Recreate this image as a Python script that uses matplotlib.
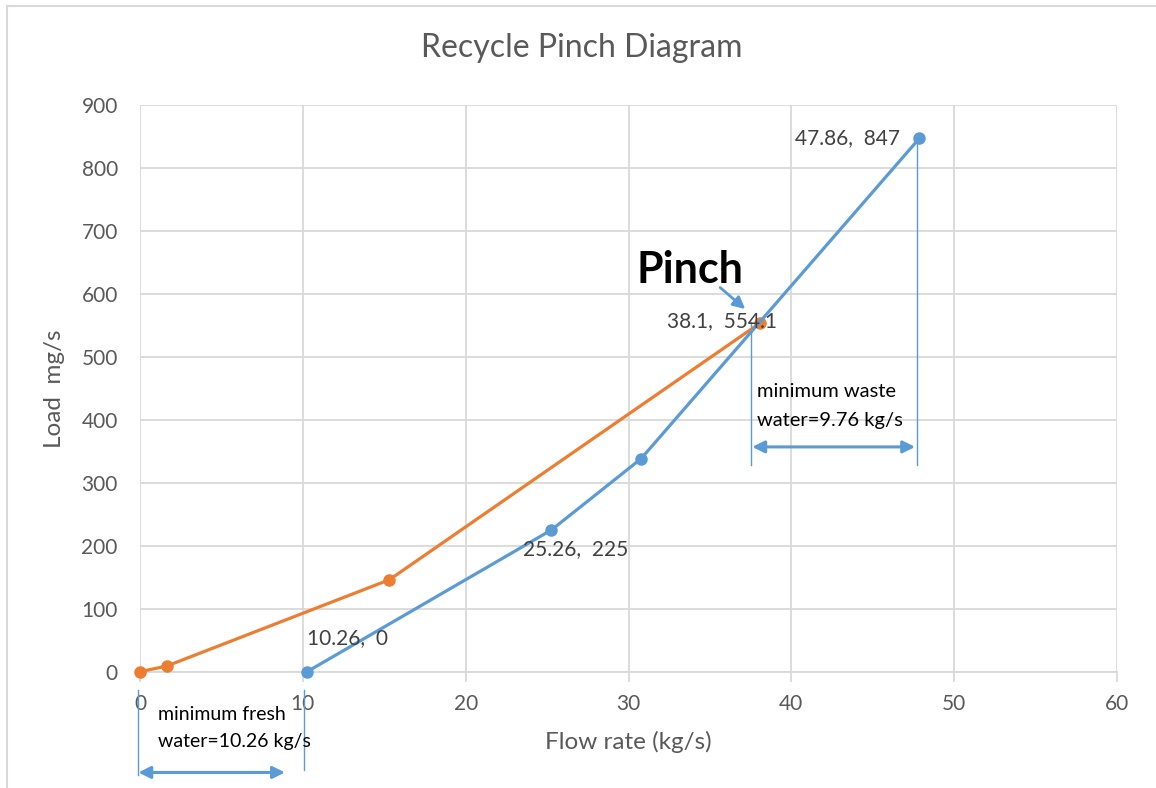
import matplotlib
matplotlib.use("Agg")
import matplotlib.pyplot as plt
from matplotlib.lines import Line2D

plt.rcParams['font.family'] = ['Lato', 'DejaVu Sans']

# source (blue) and sink (orange) composite curves
source_flow = [10.26, 25.26, 30.76, 47.86]
source_load = [0, 225, 338, 847]
sink_flow = [0, 1.64, 15.31, 38.1]
sink_load = [0, 9, 146, 554.1]

labels = ["10.26,  0", "25.26,  225", "38.1,  554.1", "47.86,  847"]
label_pts = [(10.26, 0), (25.26, 225), (38.1, 554.1), (47.86, 847)]

BLUE = "#5B9BD5"
ORANGE = "#ED7D31"
GRID = "#D9D9D9"
GREY = "#595959"

fig = plt.figure(figsize=(11.56, 7.88), dpi=100)
ax = fig.add_axes([140/1156, 1 - 671.7/788, (1117 - 140)/1156, (671.7 - 105)/788])

ax.plot(sink_flow, sink_load, color=ORANGE, lw=2.3, marker='o', ms=8, zorder=3, clip_on=False)
ax.plot(source_flow, source_load, color=BLUE, lw=2.3, marker='o', ms=8, zorder=4, clip_on=False)

ax.set_xlim(0, 60)
ax.set_ylim(0, 900)
ax.set_xticks(range(0, 61, 10))
ax.set_yticks(range(0, 901, 100))
ax.grid(True, color=GRID, lw=1.3)
ax.set_axisbelow(True)
for s in ['top', 'right', 'left']:
    ax.spines[s].set_visible(False)
ax.spines['bottom'].set_color(GRID)
ax.spines['bottom'].set_linewidth(1.3)
ax.tick_params(axis='x', length=7, width=1.3, color=GRID, labelcolor=GREY, labelsize=15, pad=9)
ax.tick_params(axis='y', length=0, labelcolor=GREY, labelsize=15, pad=16)

fig.suptitle("Recycle Pinch Diagram", fontsize=23, color=GREY, x=582/1156, y=1 - 48/788, va='center')
ax.set_xlabel("Flow rate (kg/s)", fontsize=17.5, color=GREY, labelpad=12)
ax.set_ylabel("Load  mg/s", fontsize=17.5, color=GREY, labelpad=12)

# data labels
offsets = [((0, 34), 'left'), ((-28, -19), 'left'), ((-38, 2), 'center'), ((-19, 0), 'right')]
for txt, pt, (off, ha) in zip(labels, label_pts, offsets):
    ax.annotate(txt, pt, xytext=off, textcoords='offset pixels', ha=ha, va='center',
                fontsize=15, color="#404040", zorder=5)

# pinch
ax.text(30.47, 638, "Pinch", fontsize=31, fontweight='bold', color='black', ha='left', va='center')
ax.annotate("", xy=(37.3, 573), xytext=(35.5, 613),
            arrowprops=dict(arrowstyle='-|>', color=BLUE, lw=2, mutation_scale=18))

# minimum waste water
ax.plot([37.5, 37.5], [328, 555], color=BLUE, lw=1)
ax.plot([47.7, 47.7], [328, 849], color=BLUE, lw=1)
ax.annotate("", xy=(47.6, 357), xytext=(37.6, 357),
            arrowprops=dict(arrowstyle='<|-|>', color=BLUE, lw=2.2, mutation_scale=18, shrinkA=0, shrinkB=0))
ax.text(37.9, 422, "minimum waste\nwater=9.76 kg/s", fontsize=14.5, color='black',
        ha='left', va='center', linespacing=1.85)

# minimum fresh water (below the axis)
ax.plot([-0.15, -0.15], [-29, -164], color=BLUE, lw=1, clip_on=False)
ax.plot([10.07, 10.07], [-29, -156], color=BLUE, lw=1, clip_on=False)
ax.annotate("", xy=(8.9, -160), xytext=(-0.1, -160), annotation_clip=False,
            arrowprops=dict(arrowstyle='<|-|>', color=BLUE, lw=2.2, mutation_scale=18, shrinkA=0, shrinkB=0))
ax.text(1.1, -90, "minimum fresh\nwater=10.26 kg/s", fontsize=14, color='black',
        ha='left', va='center', linespacing=1.7, clip_on=False)

# chart border
fig.add_artist(Line2D([7/1156, 7/1156], [0, 1 - 6/788], color=GRID, lw=1.5))
fig.add_artist(Line2D([7/1156, 1], [1 - 6/788, 1 - 6/788], color=GRID, lw=1.5))

fig.savefig("out.png", dpi=100)
